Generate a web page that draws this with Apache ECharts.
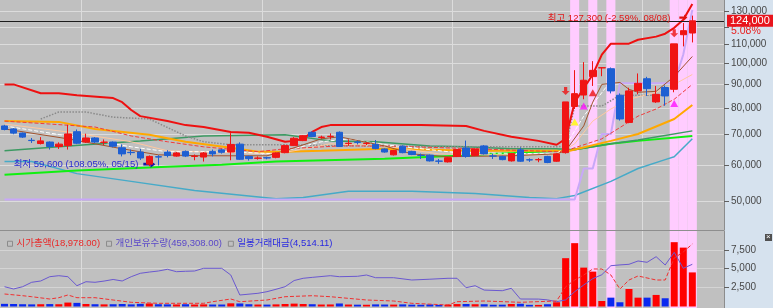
<!DOCTYPE html>
<html><head><meta charset="utf-8">
<script src="https://cdn.jsdelivr.net/npm/echarts@6/dist/echarts.min.js"></script>
<style>html,body{margin:0;padding:0;background:#d6e2ee;}#c{width:773px;height:308px;}</style>
</head><body><div id="c"></div>
<script>
const FONT = "'Liberation Sans','Noto Sans CJK KR',sans-serif";
const dates = ['04/19','04/22','04/23','04/24','04/25','04/26','04/29','04/30','05/02','05/03','05/07','05/08','05/09','05/10','05/13','05/14','05/15','05/16','05/17','05/20','05/21','05/22','05/23','05/24','05/27','05/28','05/29','05/30','05/31','06/03','06/04','06/05','06/07','06/10','06/11','06/12','06/13','06/14','06/17','06/18','06/19','06/20','06/21','06/24','06/25','06/26','06/27','06/28','07/01','07/02','07/03','07/04','07/05','07/08','07/09','07/10','07/11','07/12','07/15','07/16','07/17','07/18','07/19','07/22','07/23','07/24','07/25','07/26','07/29','07/30','07/31','08/01','08/02','08/05','08/06','08/07','08/08','+1','+2','+3'];
const opens  = [73000,71900,70400,67900,66800,67300,65800,66100,70900,67300,68700,67200,67300,65400,63900,64000,60200,62500,64000,62700,64200,62600,62400,64200,64700,64000,66600,62600,62000,62200,62300,63800,66100,67800,70700,68900,69200,70700,66800,67300,66800,66500,65000,63100,65900,64200,62950,63000,61150,60900,62600,65300,62900,66000,62750,62600,61200,64700,61550,61550,62600,61100,63800,80500,85300,93600,97800,97400,85200,74300,87100,92600,82400,88600,87800,115600,116600];
const closes = [71700,70400,69000,67800,67700,65800,66600,70100,66900,68700,67300,67300,65900,63400,63800,62100,62600,62400,62900,63700,62700,62700,63700,63400,63900,66500,61700,61900,62100,62100,63700,66100,68600,69500,69200,69000,69300,65800,66900,67200,66900,65100,64000,64500,63800,63200,62900,61200,61100,62200,64800,62600,65000,63400,62700,61600,63500,61100,61500,61600,60700,63400,82400,85900,91900,96600,97900,87100,75600,87100,90500,88100,85600,84900,110400,118000,124000];
const lows   = [71400,70000,68700,67000,66500,64800,65000,64800,66600,67000,67000,66300,65500,62600,63000,61500,59600,59800,62300,62500,62400,61400,61000,62600,63500,61400,61500,61300,61600,61700,62000,63600,66000,67600,69000,68400,68200,65700,66000,66500,66300,64900,63800,62900,63600,63000,61800,61000,60300,60700,62400,62200,62700,63200,61800,61400,61000,60900,60900,60800,60500,60900,63500,79500,83500,89300,93800,86000,75000,74000,85600,84900,82000,80800,86500,109000,111200];
const highs  = [73400,72200,70600,68700,69000,67500,67200,73400,71700,70200,69000,68200,67500,66500,64800,65000,62900,63000,64600,64000,64500,63200,64000,64800,65000,70400,67200,62800,62600,62500,63900,66400,69000,69700,71000,69500,70300,71000,68200,67800,67300,68000,65200,64700,66200,64400,63500,63200,61800,62400,65000,67800,65200,66300,63500,62800,63700,65500,62000,62100,62800,63600,82400,96700,100700,101200,97900,98000,86000,88500,95100,93500,89300,89500,110400,122600,127300];
const tradeValue = [350,330,300,280,300,320,300,520,480,330,300,280,300,330,280,350,400,300,280,270,300,260,280,260,260,420,400,300,260,250,280,330,380,330,300,260,270,400,260,240,230,280,260,250,280,240,230,270,220,250,320,330,300,300,230,240,330,360,220,210,300,560,6400,8390,5150,4620,730,1170,560,2320,1170,1170,1530,1090,8520,7800,4514];
const holdings = [[0,374700],[1,366100],[2,374700],[3,391400],[4,396300],[5,412500],[6,416300],[7,412500],[8,378500],[9,393600],[10,391400],[11,396000],[12,402000],[13,396300],[14,412500],[15,425300],[16,430000],[17,434000],[18,440400],[19,431400],[20,433000],[21,434000],[22,444200],[24,444200],[25,418900],[26,343400],[28,349800],[29,355900],[30,365000],[31,374700],[32,398000],[33,406500],[34,410000],[36,416300],[37,412500],[39,414000],[40,418900],[41,408700],[43,408700],[45,400000],[47,403000],[49,406500],[50,406500],[51,371000],[52,378500],[53,362000],[55,359600],[56,368700],[57,328300],[59,328000],[60,325000],[61,318100],[62,325000],[63,355900],[64,381200],[65,405000],[66,420000],[67,454000],[68,457000],[69,459300],[70,471800],[71,466900],[72,488000],[73,456700],[74,504600],[75,444200],[76,459308]];
const marketCap = [[0,10840],[2,10563],[3,10400],[5,10026],[6,10238],[7,10677],[8,10238],[10,10238],[12,9863],[14,9489],[17,9326],[22,9326],[23,9586],[25,10026],[26,9586],[29,9863],[31,10400],[34,10563],[36,10400],[40,9863],[43,9700],[45,9326],[49,9049],[50,9586],[53,9700],[57,9489],[61,9700],[62,12000],[63,13119],[64,13933],[65,14910],[66,14910],[67,13933],[68,11650],[69,13119],[70,13770],[71,13450],[72,13119],[73,13119],[74,16700],[75,17680],[76,18978]];
const upperLine = [[0,90000],[1,90000],[4,86100],[6,86100],[8,85200],[12,84000],[13,82300],[14,79100],[15,76700],[18,74800],[20,73300],[22,72600],[25,70800],[27,70500],[29,69100],[31,67400],[32,67700],[33,68400],[34,70800],[35,72600],[36,73300],[46,73300],[51,73000],[53,71200],[56,69100],[59,67700],[61,66400],[62,68400],[63,82300],[65,94600],[66,104600],[67,110500],[69,110500],[70,112700],[72,114500],[73,116200],[74,119700],[75,124600],[76,135000]];
const cyanLine = [[0,61000],[3,61000],[8,57400],[14,55200],[21,52700],[30,50600],[33,50900],[38,52500],[45,52500],[52,51900],[58,50900],[61,50600],[63,51400],[67,55200],[70,58900],[73,61600],[74,62500],[76,68400]];
const limeLine = [[0,57100],[8,58300],[18,59450],[24,60050],[30,61000],[42,61900],[50,62800],[61,64400],[62,64400],[67,66700],[70,67700],[76,69400]];
const greenLine = [[0,64400],[9,66400],[15,67700],[22,69400],[31,69800],[36,67700],[41,67400],[47,66000],[51,65700],[56,65050],[61,65050],[63,64700],[67,66700],[70,68000],[76,71200]];
const orangeLine = [[0,74800],[6,74500],[10,71900],[16,69800],[20,67400],[25,65400],[28,64100],[31,64100],[35,64400],[42,65050],[52,64400],[61,64400],[62,64100],[67,67700],[70,70100],[74,75600],[76,81100]];
const grayDashLine = [[4,75600],[6,78300],[9,78300],[12,76300],[16,75600],[20,69400],[22,67400],[25,66400],[30,66400],[40,66000],[50,65700],[61,65700],[62,66000],[63,80700],[66,80700],[68,85200],[73,85200]];
const redDashLine = [[0,74800],[5,73700],[10,72600],[14,69400],[18,67400],[22,65700],[28,64100],[31,65050],[37,66000],[42,66000],[52,65050],[61,64100],[62,64400],[66,68400],[69,74500],[70,76700],[72,79500],[74,83500],[76,90000]];
const peachLine = [[0,73700],[7,70800],[14,67400],[18,64400],[30,63400],[32,64400],[36,66700],[42,66000],[48,63400],[55,63100],[61,63100],[63,66700],[65,74800],[67,79500],[69,83500],[72,86500],[74,90000],[76,94600]];
const brownLine = [[0,71900],[7,68400],[13,65050],[17,63100],[22,62800],[29,62800],[31,64400],[35,68400],[37,69100],[42,66000],[45,63400],[49,62500],[56,62800],[61,63400],[62,64400],[64,73000],[65,82300],[66,90000],[68,90900],[69,87800],[70,86500],[72,86900],[74,93700],[76,103600]];
const whiteDashLine = [[0,73000],[7,69400],[14,65700],[18,64100],[25,64100],[30,63400],[31,64400],[35,67400],[38,68400],[42,66400],[50,63800],[61,63400],[62,66000],[64,76700],[67,91600]];
const lavenderLine = [[0,50400],[63,50400],[64,58900],[65,58900],[66,70100],[67,70100],[68,90500],[74,90500],[75,104600],[76,131000]];
const highlightDays = [63,65,67,74,75,76];
const sellArrows = [[62,87100],[74,116500]];
const redTriangles = [[65,86300]];
const magentaTriangles = [[64,80700],[74,81700]];
const yellowTriangles = [[63,74500]];
const priceTicks = [50000,60000,70000,80000,90000,100000,110000,120000,130000];
const priceLabels = [50000,60000,70000,80000,90000,100000,110000,130000];
const valueTicks = [2500,5000,7500];
const monthLines = [9,29,50,71];
const lastPrice = 124000;

const fmt = v => String(Math.round(v)).replace(/\B(?=(\d{3})+(?!\d))/g, ',');
const RED = '#f01414', BLUE = '#1e5fd2';
const candleData = opens.map((o,i)=>[o, closes[i], lows[i], highs[i]]);
const isUp = i => closes[i] >= opens[i];
const pinkData = dates.map((d,i)=> highlightDays.includes(i) ? 1 : null);
const arrowRight = 'path://M0,3L6,3L6,0L10,5L6,10L6,7L0,7Z';
const arrowDown = 'path://M3,0L7,0L7,5L10,5L5,10L0,5L3,5Z';

function line(name, data, color, width, type, z) {
  return { type:'line', name, data, xAxisIndex:0, yAxisIndex:0, symbol:'none', showSymbol:false, connectNulls:true,
    silent:true, z: z||3, lineStyle:{ color, width, type: type||'solid' } };
}

const chart = echarts.init(document.getElementById('c'), null, {renderer:'canvas'});
const xBase = { type:'category', data: dates, boundaryGap:true, axisLabel:{show:false}, axisTick:{show:false}, axisLine:{show:false} };
chart.setOption({
  animation:false,
  backgroundColor:'#d6e2ee',
  grid:[
    { left:0, top:0, width:724, height:230, show:true, backgroundColor:'#c0c0c0', borderWidth:0 },
    { left:0, top:231, width:724, bottom:0, show:true, backgroundColor:'#c0c0c0', borderWidth:0 },
    { left:0, top:0, width:724, bottom:0, show:false }
  ],
  legend:{ left:2, top:234, icon:'rect', itemWidth:5, itemHeight:5, itemGap:6, selectedMode:false,
    itemStyle:{ color:'rgba(0,0,0,0)', borderColor:'#8a8a8a', borderWidth:1 },
    textStyle:{ fontSize:9.5, fontFamily:FONT, padding:[0,0,0,-1] },
    data:[ {name:'시가총액(18,978.00)', textStyle:{color:'#e82828'}},
           {name:'개인보유수량(459,308.00)', textStyle:{color:'#5a48c8'}},
           {name:'일봉거래대금(4,514.11)', textStyle:{color:'#2828e0'}} ] },
  xAxis:[
    Object.assign({}, xBase, { gridIndex:0, splitLine:{show:true, interval:(i)=>monthLines.includes(i), lineStyle:{color:'#dcdcdc', width:1}} }),
    Object.assign({}, xBase, { gridIndex:1, splitLine:{show:true, interval:(i)=>monthLines.includes(i), lineStyle:{color:'#dcdcdc', width:1}} }),
    Object.assign({}, xBase, { gridIndex:2, splitLine:{show:false} })
  ],
  yAxis:[
    { type:'log', logBase:10, gridIndex:0, position:'right', min:43200, max:137720,
      axisLine:{show:true, lineStyle:{color:'#8c8c8c'}},
      axisTick:{show:true, length:5, customValues: priceTicks, lineStyle:{color:'#606060'}},
      axisLabel:{show:true, customValues: priceLabels, formatter: v=>fmt(v), color:'#484848', fontSize:10, fontFamily:FONT, margin:7},
      splitLine:{show:true, lineStyle:{color:'#dcdcdc', width:1}} },
    { type:'value', gridIndex:1, position:'right', min:-200, max:10000,
      axisLine:{show:true, lineStyle:{color:'#8c8c8c'}},
      axisTick:{show:true, length:5, customValues: valueTicks, lineStyle:{color:'#606060'}},
      axisLabel:{show:true, customValues: valueTicks, formatter: v=>fmt(v), color:'#484848', fontSize:10, fontFamily:FONT, margin:7},
      splitLine:{show:true, lineStyle:{color:'#d4d4d4', width:1}} },
    { type:'value', gridIndex:1, min:294340, max:585000, show:false, splitLine:{show:false} },
    { type:'value', gridIndex:1, min:8561, max:21096, show:false, splitLine:{show:false} },
    { type:'value', gridIndex:2, min:0, max:1, show:false, splitLine:{show:false} }
  ],
  graphic:[
    { type:'line', shape:{x1:0, y1:230.5, x2:724, y2:230.5}, style:{stroke:'#8e8e8e', lineWidth:1}, z:10 },
    { type:'text', left:731, top:26, style:{ text:'5.08%', fill:'#e82020', font:'10.5px '+FONT }, z:10 },
    { type:'rect', shape:{x:765, y:234, width:7, height:7}, style:{fill:'#505050'}, z:10 },
    { type:'text', left:766, top:233, style:{ text:'×', fill:'#ffffff', font:'8px '+FONT }, z:11 }
  ],
  series:[
    { type:'bar', name:'highlight', xAxisIndex:2, yAxisIndex:4, data:pinkData, barWidth:'100%', silent:true, z:1,
      itemStyle:{ color:'#ffccff' } },
    line('envelopeLower', cyanLine, '#46aac8', 1.5),
    line('lavender', lavenderLine, '#c8a8f8', 2),
    line('lime', limeLine, '#10f010', 2),
    line('darkGreen', greenLine, '#3c9a62', 1.5),
    line('orange', orangeLine, '#ffa800', 2),
    line('grayDash', grayDashLine, '#8a8a8a', 1.5, 'dotted'),
    line('peach', peachLine, '#ffc8a0', 1),
    line('redDash', redDashLine, '#f03c3c', 1, 'dashed'),
    line('whiteDash', whiteDashLine, '#ffffff', 1, 'dashed'),
    line('brown', brownLine, '#a0522d', 1),
    line('upper', upperLine, '#ee1010', 2),
    { type:'candlestick', name:'price', xAxisIndex:0, yAxisIndex:0, data:candleData, barWidth:7, z:5, silent:true,
      itemStyle:{ color:RED, color0:BLUE, borderColor:RED, borderColor0:BLUE, borderWidth:1 },
      markLine:{ silent:true, symbol:'none', animation:false,
        lineStyle:{ color:'#1c1c1c', width:1, type:'solid' },
        label:{ show:true, position:'end', formatter: fmt(lastPrice), color:'#ffffff', backgroundColor:'#e8141c',
          padding:[1,4,0,3], fontSize:11, fontFamily:FONT, distance:3 },
        data:[ { yAxis: lastPrice } ] },
      markPoint:{ silent:true, animation:false, data:[
        { name:'high', coord:[dates[76], 127300], symbol:arrowRight, symbolSize:[8,6], symbolOffset:[-9,2],
          itemStyle:{color:'#e01010'},
          label:{ show:true, position:'left', distance:9, offset:[0,1], formatter:'최고 127,300 (-2.59%, 08/08)', color:'#e01818', fontSize:9.5, fontFamily:FONT } },
        { name:'low', coord:[dates[16], 59600], symbol:arrowRight, symbolSize:[12,7], symbolOffset:[0,-2],
          itemStyle:{color:'#1414a8'},
          label:{ show:true, position:'left', distance:5, formatter:'최저 59,600 (108.05%, 05/15)', color:'#2a2ad0', fontSize:9.5, fontFamily:FONT } }
      ] } },
    { type:'scatter', name:'sell', xAxisIndex:0, yAxisIndex:0, data:sellArrows, symbol:arrowDown, symbolSize:[8,8], z:6, silent:true, itemStyle:{color:'#ee1010'} },
    { type:'scatter', name:'buyRed', xAxisIndex:0, yAxisIndex:0, data:redTriangles, symbol:'triangle', symbolSize:[8,7], z:6, silent:true, itemStyle:{color:'#ee1010'} },
    { type:'scatter', name:'buyMagenta', xAxisIndex:0, yAxisIndex:0, data:magentaTriangles, symbol:'triangle', symbolSize:[8,7], z:6, silent:true, itemStyle:{color:'#ff10ff'} },
    { type:'scatter', name:'buyYellow', xAxisIndex:0, yAxisIndex:0, data:yellowTriangles, symbol:'triangle', symbolSize:[8,7], z:6, silent:true, itemStyle:{color:'#ffff00'} },
    { type:'bar', name:'일봉거래대금(4,514.11)', xAxisIndex:1, yAxisIndex:1, data:tradeValue, barWidth:7, z:3, silent:true,
      itemStyle:{ color: p => isUp(p.dataIndex) ? '#ff0000' : '#0a28f0' } },
    { type:'line', name:'개인보유수량(459,308.00)', xAxisIndex:1, yAxisIndex:2, data:holdings, symbol:'none', connectNulls:true, silent:true, z:4,
      lineStyle:{ color:'#6a58d0', width:1 }, itemStyle:{color:'#6a58d0'} },
    { type:'line', name:'시가총액(18,978.00)', xAxisIndex:1, yAxisIndex:3, data:marketCap, symbol:'none', connectNulls:true, silent:true, z:4,
      lineStyle:{ color:'#f03030', width:1, type:'dashed' }, itemStyle:{color:'#f03030'} }
  ]
});
</script>
</body></html>
